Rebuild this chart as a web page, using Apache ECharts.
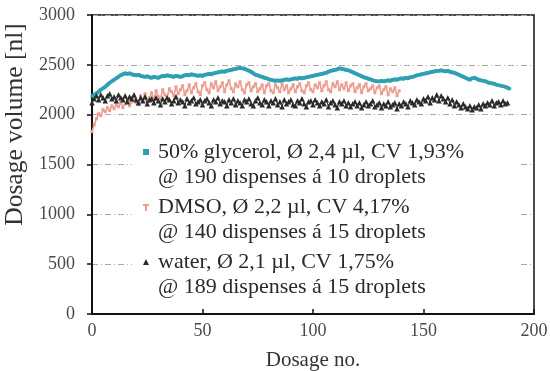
<!DOCTYPE html>
<html>
<head>
<meta charset="utf-8">
<script src="https://cdn.jsdelivr.net/npm/echarts@6/dist/echarts.min.js"></script>
<style>html,body{margin:0;padding:0;background:#fff}#c{width:550px;height:371px}</style>
</head>
<body>
<div id="c"></div>
<script>
var seriesNames = [
  "50% glycerol, Ø 2,4 µl, CV 1,93%\n@ 190 dispenses á 10 droplets",
  "DMSO, Ø 2,2 µl, CV 4,17%\n@ 140 dispenses á 15 droplets",
  "water, Ø 2,1 µl, CV 1,75%\n@ 189 dispenses á 15 droplets"
];
var yTicks = [0, 500, 1000, 1500, 2000, 2500, 3000];
var xTicks = [0, 50, 100, 150, 200];

var glycerol = [
  2185,2200,2215,2230,2250,2265,2280,2300,2320,2335,
  2350,2365,2380,2395,2405,2415,2410,2415,2405,2400,
  2395,2400,2390,2385,2380,2385,2375,2370,2380,2375,
  2370,2380,2390,2385,2395,2390,2385,2380,2390,2385,
  2380,2385,2395,2400,2395,2405,2400,2395,2390,2395,
  2390,2400,2405,2410,2405,2415,2420,2425,2430,2435,
  2430,2440,2445,2450,2455,2460,2465,2470,2465,2460,
  2450,2440,2430,2415,2400,2395,2385,2380,2370,2365,
  2355,2350,2345,2340,2345,2340,2345,2350,2355,2350,
  2355,2360,2365,2360,2370,2365,2370,2375,2380,2385,
  2390,2395,2400,2405,2410,2415,2420,2430,2440,2445,
  2450,2455,2465,2460,2455,2450,2445,2435,2425,2415,
  2405,2395,2385,2375,2370,2360,2355,2345,2340,2335,
  2335,2340,2335,2340,2345,2340,2350,2355,2350,2360,
  2365,2360,2370,2365,2375,2380,2385,2395,2400,2405,
  2410,2415,2420,2425,2430,2435,2440,2440,2445,2440,
  2435,2440,2430,2425,2420,2410,2400,2390,2380,2370,
  2360,2350,2365,2370,2360,2350,2345,2340,2335,2325,
  2320,2315,2310,2300,2295,2290,2285,2280,2270,2260
];
var dmso = [
  1830,1900,1960,2010,1990,2050,2030,2070,2040,2090,
  2060,2100,2080,2120,2070,2110,2150,2090,2130,2180,
  2120,2100,2190,2140,2210,2130,2170,2220,2150,2240,
  2180,2160,2250,2200,2170,2260,2230,2190,2280,2210,
  2250,2290,2200,2240,2300,2220,2270,2310,2230,2200,
  2290,2320,2250,2220,2310,2270,2330,2240,2280,2320,
  2230,2300,2340,2260,2230,2310,2280,2330,2250,2220,
  2300,2320,2240,2280,2310,2230,2260,2300,2220,2290,
  2310,2240,2220,2300,2270,2230,2310,2250,2290,2220,
  2260,2300,2230,2280,2310,2240,2220,2290,2320,2250,
  2230,2300,2270,2320,2240,2290,2330,2250,2230,2310,
  2280,2330,2250,2300,2260,2320,2240,2290,2310,2230,
  2270,2300,2220,2280,2310,2240,2260,2290,2220,2270,
  2290,2210,2250,2280,2200,2260,2230,2270,2190,2240
];
var water = [
  2120,2160,2190,2150,2200,2170,2140,2190,2210,2160,
  2180,2140,2200,2170,2150,2190,2130,2180,2160,2200,
  2150,2120,2170,2140,2180,2110,2150,2160,2120,2170,
  2140,2100,2160,2130,2170,2150,2110,2140,2180,2120,
  2150,2130,2090,2160,2120,2140,2170,2110,2130,2150,
  2100,2140,2160,2120,2090,2150,2130,2170,2110,2140,
  2130,2090,2150,2120,2160,2100,2140,2120,2090,2150,
  2130,2160,2110,2090,2140,2170,2120,2100,2150,2130,
  2090,2140,2120,2160,2100,2130,2080,2150,2110,2130,
  2150,2100,2090,2140,2120,2160,2110,2080,2130,2140,
  2100,2150,2120,2090,2130,2110,2150,2080,2120,2140,
  2100,2070,2130,2110,2140,2090,2120,2080,2110,2130,
  2090,2120,2070,2100,2130,2090,2110,2140,2080,2100,
  2120,2070,2110,2090,2130,2080,2100,2120,2060,2110,
  2090,2130,2110,2080,2140,2120,2100,2150,2130,2110,
  2160,2140,2180,2120,2170,2150,2200,2140,2190,2160,
  2130,2170,2110,2150,2090,2130,2100,2070,2110,2080,
  2060,2090,2050,2080,2070,2100,2060,2110,2090,2120,
  2100,2140,2090,2120,2130,2100,2140,2110,2120
];

function pairs(arr) { return arr.map(function (v, i) { return [i, v]; }); }

var colors = ['#2fa0b2', '#ec9d90', '#2a2a2a'];
var font = 'Liberation Serif';

var chart = echarts.init(document.getElementById('c'), null, {renderer: 'canvas'});
chart.setOption({
  animation: false,
  backgroundColor: '#fff',
  grid: {left: 92, right: 16, top: 15, bottom: 57, outerBoundsMode: 'none', containLabel: false,
         show: true, borderColor: '#111', borderWidth: 1.5, backgroundColor: 'transparent'},
  xAxis: {
    type: 'value', min: 0, max: 200, interval: 50,
    name: 'Dosage no.', nameLocation: 'middle', nameGap: 36,
    nameTextStyle: {fontFamily: font, fontSize: 21, color: '#333'},
    axisLine: {show: true, onZero: false, lineStyle: {color: '#111', width: 2}},
    axisTick: {show: true, inside: true, length: 5, lineStyle: {color: '#111', width: 1.5}},
    axisLabel: {fontFamily: font, fontSize: 18, color: '#4a4a4a', margin: 8, formatter: function (v) { return xTicks.indexOf(v) >= 0 ? String(v) : ''; }},
    splitLine: {show: false}
  },
  yAxis: {
    type: 'value', min: 0, max: 3000, interval: 500,
    name: 'Dosage volume [nl]', nameLocation: 'middle', nameGap: 57,
    nameTextStyle: {fontFamily: font, fontSize: 25.5, color: '#333', padding: [0, 0, 0, 80]},
    axisLine: {show: true, onZero: false, lineStyle: {color: '#111', width: 2}},
    axisTick: {show: true, inside: false, length: 5, lineStyle: {color: '#111', width: 1.5}},
    axisLabel: {fontFamily: font, fontSize: 18, color: '#4a4a4a', margin: 17, formatter: function (v) { return yTicks.indexOf(v) >= 0 ? String(v) : ''; }},
    splitLine: {show: true, lineStyle: {color: '#a8a8a8', width: 1, type: [6, 3, 1, 3]}}
  },
  legend: {
    orient: 'vertical', left: 132, top: 134,
    padding: [6, 56, 4, 11],
    backgroundColor: '#fff',
    itemWidth: 10, itemHeight: 50, itemGap: 5,
    textStyle: {fontFamily: font, fontSize: 22, lineHeight: 25, color: '#2a2a2a'},
    data: [
      {name: seriesNames[0], icon: 'path://M0,0L0.01,0L0.01,0.01Z M0,9L6,9L6,15L0,15Z M10,50L10.01,50L10.01,50.01Z'},
      {name: seriesNames[1], icon: 'path://M0,0L0.01,0L0.01,0.01Z M0,9L6,9L6,11L4,11L4,16L2,16L2,11L0,11Z M10,50L10.01,50L10.01,50.01Z'},
      {name: seriesNames[2], icon: 'path://M0,0L0.01,0L0.01,0.01Z M3,9L6,15L0,15Z M10,50L10.01,50L10.01,50.01Z'}
    ]
  },
  series: [
    {name: seriesNames[0], type: 'line', data: pairs(glycerol), color: colors[0],
     symbol: 'rect', symbolSize: 3, lineStyle: {width: 3.8, color: colors[0]}, itemStyle: {color: colors[0]}, z: 3},
    {name: seriesNames[1], type: 'line', data: pairs(dmso), color: colors[1],
     symbol: 'rect', symbolSize: 3, lineStyle: {width: 1.6, color: colors[1]}, itemStyle: {color: colors[1]}, z: 2},
    {name: seriesNames[2], type: 'line', data: pairs(water), color: colors[2],
     symbol: 'triangle', symbolSize: 5.5, lineStyle: {width: 1, color: colors[2]}, itemStyle: {color: colors[2]}, z: 4}
  ]
});
</script>
</body>
</html>
